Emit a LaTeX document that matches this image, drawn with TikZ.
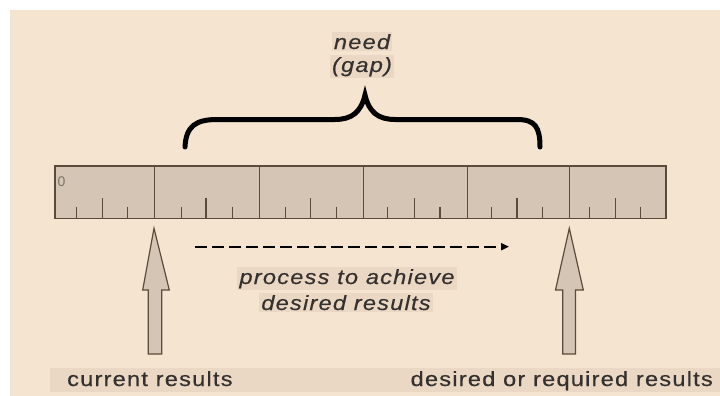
\documentclass[tikz,border=0pt]{standalone}
\usepackage{fontspec}
\usetikzlibrary{arrows.meta}
\newfontfamily\lab[LetterSpace=6, FakeStretch=1.15, FakeBold=0.4]{Liberation Sans}
\newfontfamily\zerofont{Liberation Sans}
\definecolor{bg}{HTML}{F5E4D0}
\definecolor{hl}{HTML}{EAD8C5}
\definecolor{rulerfill}{HTML}{D5C5B5}
\definecolor{rulerline}{HTML}{5B4B3B}
\definecolor{txt}{HTML}{34302D}
\definecolor{zero}{HTML}{7E7268}
\tikzset{
  lbl/.style={font=\lab\fontsize{20.5}{24}\selectfont, text=txt, inner sep=2pt, anchor=base},
  ilbl/.style={lbl, font=\lab\itshape\fontsize{20.5}{24}\selectfont},
  hlbox/.style={fill=hl},
  rulerbox/.style={draw=rulerline, fill=rulerfill, line width=1.5pt},
  tick/.style={draw=rulerline, line width=1.5pt},
  uparrow/.style={draw=rulerline, fill=rulerfill, line width=1.2pt, line join=miter},
  bracepath/.style={draw=black, line width=5pt, line cap=round, line join=miter},
  dasharrow/.style={draw=black, line width=1.8pt, dash pattern=on 12pt off 5pt, -{Triangle[length=8pt,width=7pt]}}
}
\begin{document}
\begin{tikzpicture}[x=1pt, y=-1pt]
\useasboundingbox (0,0) rectangle (720,396);
\fill[white] (0,0) rectangle (720,396);
\fill[bg] (10,10) rectangle (720,396);
% bottom band
\fill[hl] (50,368) rectangle (720,392);
% ruler
\node[rulerbox, minimum width=611pt, minimum height=52.5pt, inner sep=0pt, anchor=north west] (ruler) at (54.3,165) {};
\foreach \x in {154.7,259.7,363.3,467.3,569.3}{
  \draw[tick] (\x,165) -- (\x,217.5);
}
\foreach \x in {76.7,127.7,181.7,232.7,285.7,336.3,387.7,440,491.7,542.3,589.7,640.7}{
  \draw[tick] (\x,206.7) -- (\x,217.5);
}
\foreach \x in {102.3,206,310.7,414.7,517,615.3}{
  \draw[tick] (\x,197.7) -- (\x,217.5);
}
\node[font=\zerofont\fontsize{14}{14}\selectfont, text=zero, anchor=base west, inner sep=0pt] (zero) at (57.5,186.5) {0};
% brace
\coordinate (bl) at (185,147);
\coordinate (btip) at (365,95);
\coordinate (br) at (540,147);
\draw[bracepath] (bl) .. controls (186,126) and (196,119.5) .. (217,119.5) -- (335,119.5)
  .. controls (352,119.5) and (361,112) .. (btip)
  .. controls (369,112) and (378,119.5) .. (395,119.5) -- (517,119.5)
  .. controls (535,119.5) and (540,127) .. (br);
% labels above
\node[ilbl, hlbox] (need) at (362,49) {need};
\node[ilbl, hlbox] (gap) at (362,72) {(gap)};
% dashed arrow
\coordinate (ds) at (195,246.7);
\coordinate (de) at (509,246.7);
\draw[dasharrow] (ds) -- (de);
\node[ilbl, hlbox] (proc) at (347,284) {process to achieve};
\node[ilbl, hlbox] (des) at (346,310) {desired results};
% up arrows
\draw[uparrow] (154,228.3) coordinate (lt) -- (169.3,290) -- (161.7,290) -- (161.7,354) -- (148.3,354) -- (148.3,290) -- (142.7,290) -- cycle;
\draw[uparrow] (569.3,228.3) coordinate (rt) -- (583.3,290) -- (575.5,290) -- (575.5,354) -- (562.7,354) -- (562.7,290) -- (555.5,290) -- cycle;
% bottom labels
\node[lbl, anchor=base west, inner sep=0pt] (cur) at (67,386) {current results};
\node[lbl, anchor=base east, inner sep=0pt] (req) at (713,386) {desired or required results};
\end{tikzpicture}
\end{document}
